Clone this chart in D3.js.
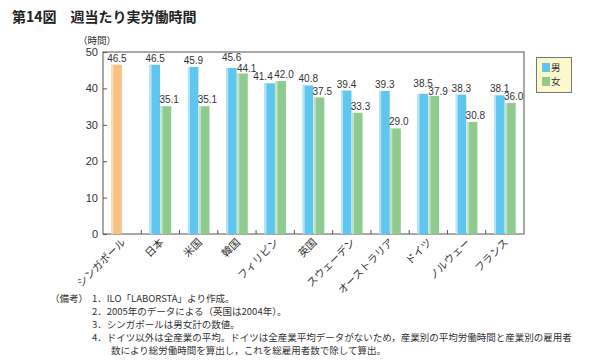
<!DOCTYPE html>
<html>
<head>
<meta charset="utf-8">
<script src="https://cdn.jsdelivr.net/npm/d3@7"></script>
<style>
  body { margin: 0; background: #fff; }
  svg { font-family: "Noto Sans CJK JP", "Noto Sans", sans-serif; display: block; }
</style>
</head>
<body>
<div id="chart"></div>
<script>
(function() {
    let w = 589,
        h = 361;

    // data
    const countries = ["シンガポール", "日本", "米国", "韓国", "フィリピン", "英国", "スウェーデン", "オーストラリア", "ドイツ", "ノルウェー", "フランス"];
    const male   = [46.5, 46.5, 45.9, 45.6, 41.4, 40.8, 39.4, 39.3, 38.5, 38.3, 38.1];
    const female = [null, 35.1, 35.1, 44.1, 42.0, 37.5, 33.3, 29.0, 37.9, 30.8, 36.0];
    const yTicks = [0, 10, 20, 30, 40, 50];
    const notes = [
        "1．ILO「LABORSTA」より作成。",
        "2．2005年のデータによる（英国は2004年）。",
        "3．シンガポールは男女計の数値。",
        "4．ドイツ以外は全産業の平均。ドイツは全産業平均データがないため，産業別の平均労働時間と産業別の雇用者",
        "　　数により総労働時間を算出し，これを総雇用者数で除して算出。"
    ];

    let svg = d3.select("#chart")
        .append("svg")
        .attr("width", w)
        .attr("height", h);

    let x = d3.scaleBand().domain(countries).range([103, 524]);
    let y = d3.scaleLinear().domain([0, 50]).range([234, 52]);
    let barW = 10.5;

    // title
    svg.append("text")
        .attr("x", 12).attr("y", 22)
        .attr("font-size", 14).attr("font-weight", "bold")
        .attr("fill", "#222")
        .text("第14図　週当たり実労働時間");

    svg.append("text")
        .attr("x", 78).attr("y", 44)
        .attr("font-size", 9.5).attr("fill", "#333")
        .text("（時間）");

    // plot frame
    svg.append("rect")
        .attr("x", 103).attr("y", 52)
        .attr("width", 421).attr("height", 182)
        .attr("fill", "none").attr("stroke", "#555").attr("stroke-width", 1);

    // y axis
    let yAxis = svg.append("g").attr("transform", "translate(103,0)")
        .call(d3.axisLeft(y).tickValues(yTicks).tickSize(-4).tickPadding(5));
    yAxis.select(".domain").remove();
    yAxis.selectAll("line").attr("stroke", "#555");
    yAxis.selectAll("text").attr("font-size", 11).attr("fill", "#333")
        .attr("font-family", "Liberation Sans, Arial, sans-serif");

    // x category separators
    let sep = countries.slice(1).map(c => x(c));
    svg.append("g").selectAll("line").data(sep).enter().append("line")
        .attr("x1", d => d).attr("x2", d => d)
        .attr("y1", 234).attr("y2", 230)
        .attr("stroke", "#555");

    // bars
    function bar(g, xPos, val, col, hi) {
        g.append("rect")
            .attr("x", xPos).attr("y", y(val))
            .attr("width", barW).attr("height", y(0) - y(val))
            .attr("fill", col);
        g.append("rect")
            .attr("x", xPos).attr("y", y(val))
            .attr("width", 2).attr("height", y(0) - y(val))
            .attr("fill", hi);
    }

    let g = svg.append("g");
    countries.forEach(function(c, i) {
        let cx = x(c) + x.bandwidth() / 2;
        let mx = cx - barW - 0.3;
        let fx = cx + 0.3;
        let mcol = i === 0 ? "#f7c184" : "#5ec6ef";
        let mhi = i === 0 ? "#fbdcb8" : "#b6e5f8";
        bar(g, mx, male[i], mcol, mhi);
        if (female[i] != null) bar(g, fx, female[i], "#8fcb8f", "#c3e3c3");
    });

    // value labels
    let lab = svg.append("g")
        .attr("font-size", 10).attr("fill", "#333")
        .attr("font-family", "Liberation Sans, Arial, sans-serif")
        .attr("text-anchor", "middle");
    countries.forEach(function(c, i) {
        let cx = x(c) + x.bandwidth() / 2;
        let mx = cx - barW / 2;
        let fx = cx + barW / 2 + 3.5;
        let my = y(male[i]) - 3;
        let fy = female[i] != null ? y(female[i]) - 3 : 0;
        if (female[i] != null && Math.abs(male[i] - female[i]) < 1.6) {
            if (female[i] > male[i]) { mx -= 7; }
            else { my -= 4; fy += 2; fx += 1; }
        }
        lab.append("text").attr("x", mx).attr("y", my).text(male[i].toFixed(1));
        if (female[i] != null)
            lab.append("text").attr("x", fx).attr("y", fy).text(female[i].toFixed(1));
    });

    // category labels (rotated)
    svg.append("g").selectAll("text").data(countries).enter().append("text")
        .attr("transform", d => "translate(" + (x(d) + x.bandwidth() / 2 + 4) + ",243) rotate(-45)")
        .attr("text-anchor", "end")
        .attr("font-size", 10.5).attr("fill", "#333")
        .text(d => d);

    // legend
    let lg = svg.append("g");
    lg.append("rect")
        .attr("x", 536.5).attr("y", 57.5).attr("width", 35).attr("height", 35)
        .attr("fill", "#fdf8cc").attr("stroke", "#777").attr("stroke-width", 1);
    [["男", "#5ec6ef"], ["女", "#8fcb8f"]].forEach(function(d, i) {
        lg.append("rect")
            .attr("x", 542).attr("y", 63 + i * 14).attr("width", 8).attr("height", 9)
            .attr("fill", d[1]);
        lg.append("text")
            .attr("x", 551).attr("y", 71 + i * 14)
            .attr("font-size", 9.5).attr("fill", "#333")
            .text(d[0]);
    });

    // notes
    let nt = svg.append("g").attr("font-size", 9.5).attr("fill", "#333");
    nt.append("text").attr("x", 50).attr("y", 302).text("（備考）");
    notes.forEach(function(n, i) {
        nt.append("text").attr("x", 92).attr("y", 302 + i * 13).text(n);
    });
})();
</script>
</body>
</html>
